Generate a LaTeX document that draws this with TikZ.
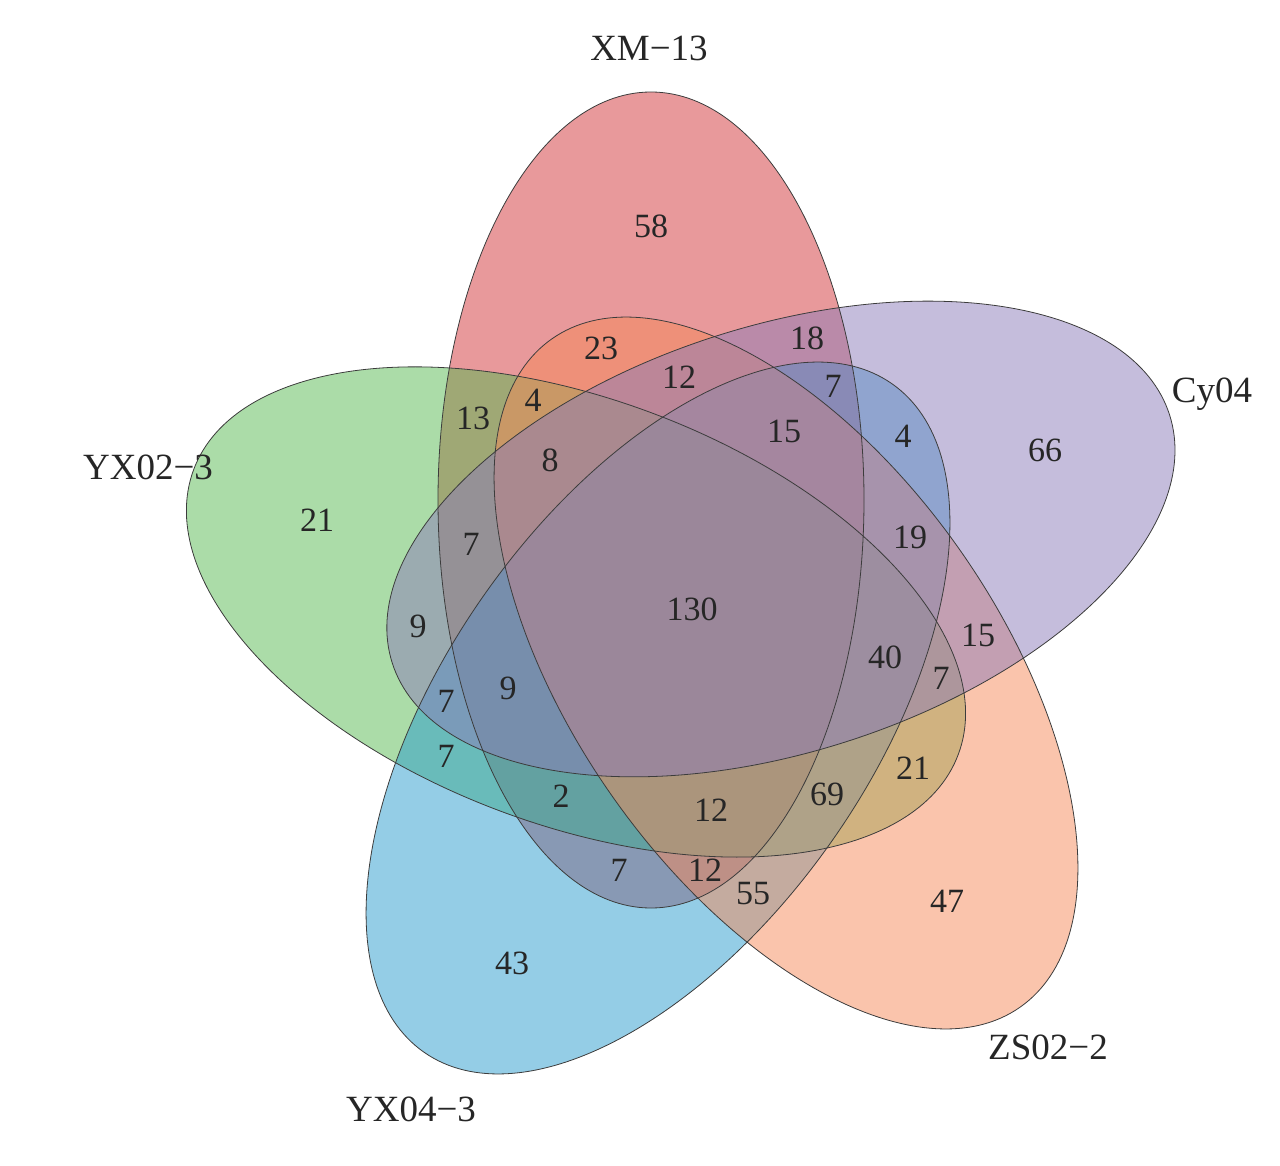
\documentclass[tikz,border=0pt]{standalone}
\usepackage{fontspec}
\setmainfont{Liberation Serif}
\definecolor{xmred}{RGB}{209,51,55}
\definecolor{cypurple}{RGB}{140,124,185}
\definecolor{zsorange}{RGB}{245,137,89}
\definecolor{yxblue}{RGB}{41,155,205}
\definecolor{yxgreen}{RGB}{87,185,81}
\definecolor{rim}{RGB}{60,60,60}
\begin{document}
\begin{tikzpicture}[x=1pt, y=-1pt,
	every node/.style={text=black!85, text depth=0pt, inner sep=0pt, font=\fontsize{34}{34}\selectfont},
	setfill/.style={fill opacity=0.5},
	setline/.style={draw=rim, line width=0.8pt},
	setlabel/.style={font=\fontsize{37}{37}\selectfont}]
	
	\useasboundingbox (0,0) rectangle (1280,1166);
	
	\coordinate (cxm) at (651,500);
	\coordinate (cyx2) at (576,612);
	\coordinate (cyx4) at (658,718);
	\coordinate (czs) at (786,673);
	\coordinate (ccy) at (781,539);
	
	% fills
	\fill[xmred, setfill] (cxm) ellipse [x radius=213pt, y radius=408pt];
	\fill[yxgreen, setfill, rotate around={-20.4:(cyx2)}] (cyx2) ellipse [x radius=408pt, y radius=213pt];
	\fill[yxblue, setfill, rotate around={55:(cyx4)}] (cyx4) ellipse [x radius=408pt, y radius=213pt];
	\fill[zsorange, setfill, rotate around={-55:(czs)}] (czs) ellipse [x radius=408pt, y radius=213pt];
	\fill[cypurple, setfill, rotate around={17.7:(ccy)}] (ccy) ellipse [x radius=408pt, y radius=213pt];
	
	% outlines
	\draw[setline] (cxm) ellipse [x radius=213pt, y radius=408pt];
	\draw[setline, rotate around={-20.4:(cyx2)}] (cyx2) ellipse [x radius=408pt, y radius=213pt];
	\draw[setline, rotate around={55:(cyx4)}] (cyx4) ellipse [x radius=408pt, y radius=213pt];
	\draw[setline, rotate around={-55:(czs)}] (czs) ellipse [x radius=408pt, y radius=213pt];
	\draw[setline, rotate around={17.7:(ccy)}] (ccy) ellipse [x radius=408pt, y radius=213pt];
	
	% set names
	\node[setlabel] (xm) at (649,48) {XM−13};
	\node[setlabel] (cy) at (1212,390) {Cy04};
	\node[setlabel] (yx2) at (148,467) {YX02−3};
	\node[setlabel] (yx4) at (411,1109) {YX04−3};
	\node[setlabel] (zs) at (1048,1047) {ZS02−2};
	
	% counts
	\node (c1) at (651,226) {58};
	\node (c2) at (601,348) {23};
	\node (c3) at (807,338) {18};
	\node (c4) at (679,377) {12};
	\node (c5) at (833,386) {7};
	\node (c6) at (533,400) {4};
	\node (c7) at (473,418) {13};
	\node (c8) at (784,431) {15};
	\node (c9) at (903,436) {4};
	\node (c10) at (1045,450) {66};
	\node (c11) at (550,460) {8};
	\node (c12) at (317,520) {21};
	\node (c13) at (471,544) {7};
	\node (c14) at (910,537) {19};
	\node (c15) at (418,626) {9};
	\node (c16) at (692,609) {130};
	\node (c17) at (978,635) {15};
	\node (c18) at (885,657) {40};
	\node (c19) at (941,678) {7};
	\node (c20) at (508,688) {9};
	\node (c21) at (446,701) {7};
	\node (c22) at (446,756) {7};
	\node (c23) at (913,768) {21};
	\node (c24) at (561,796) {2};
	\node (c25) at (711,810) {12};
	\node (c26) at (827,794) {69};
	\node (c27) at (619,870) {7};
	\node (c28) at (705,870) {12};
	\node (c29) at (753,893) {55};
	\node (c30) at (947,901) {47};
	\node (c31) at (512,963) {43};
	
\end{tikzpicture}
\end{document}
